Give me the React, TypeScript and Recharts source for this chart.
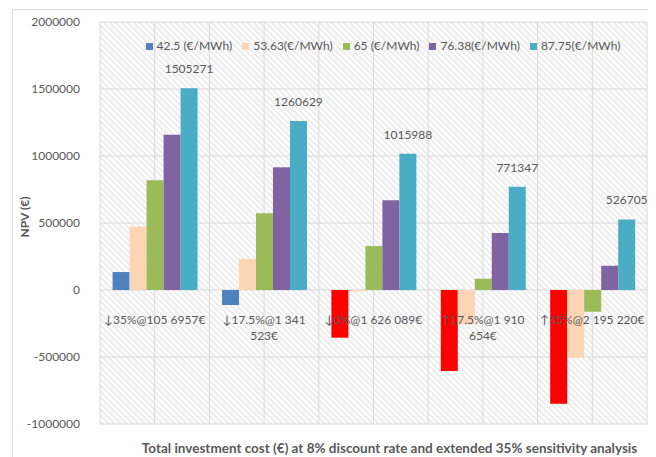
import { Bar, BarChart, CartesianGrid, Cell, Label, LabelList, Legend, XAxis, YAxis } from "recharts";

// categories: total investment cost scenarios
const categories = [
  "↓35%@105 6957€",
  "↓17.5%@1 341 523€",
  "↓0%@1 626 089€",
  "↑17.5%@1 910 654€",
  "↑35%@2 195 220€",
];

const seriesNames = ["42.5 (€/MWh)", "53.63(€/MWh)", "65 (€/MWh)", "76.38(€/MWh)", "87.75(€/MWh)"];

// NPV (€) per tariff
const npv425 = [134000, -112000, -356000, -604000, -848000];
const npv5363 = [474000, 232000, -10000, -256000, -505000];
const npv65 = [819000, 572000, 328000, 84000, -162000];
const npv7638 = [1159000, 916000, 669000, 425000, 181000];
const npv8775 = [1505271, 1260629, 1015988, 771347, 526705];

const yTicks = [-1000000, -500000, 0, 500000, 1000000, 1500000, 2000000];
const yDomain = [-1000000, 2000000];

const COLORS = ["#4F81BD", "#FCD5B5", "#9BBB59", "#8064A2", "#4BACC6"];
// first series is highlighted red where it turns deeply negative
const firstSeriesFills = ["#4F81BD", "#4F81BD", "#FF0000", "#FF0000", "#FF0000"];

const TEXT = "#595959";
const GRID = "#D9D9D9";

const data = categories.map((category, i) => ({
  category,
  s0: npv425[i],
  s1: npv5363[i],
  s2: npv65[i],
  s3: npv7638[i],
  s4: npv8775[i],
}));

const W = 638;
const H = 448;
const MARGIN = { top: 12, right: 4, bottom: 0, left: 0 };
const Y_AXIS_W = 87;
const X_AXIS_H = 34;
const plotTop = MARGIN.top;
const plotBottom = H - MARGIN.bottom - X_AXIS_H;
const zeroY = plotTop + (yDomain[1] / (yDomain[1] - yDomain[0])) * (plotBottom - plotTop);

function wrap(label: string, maxChars = 15) {
  const words = label.split(" ");
  const lines: string[] = [];
  let cur = "";
  for (const w of words) {
    const next = cur ? cur + " " + w : w;
    if (next.length > maxChars && cur) {
      lines.push(cur);
      cur = w;
    } else {
      cur = next;
    }
  }
  if (cur) lines.push(cur);
  return lines;
}

function CategoryTick(props: any) {
  const { x, payload } = props;
  const lines = wrap(payload.value);
  return (
    <text x={x} y={zeroY + 34} textAnchor="middle" fill={TEXT} fontSize={12}>
      {lines.map((l, i) => (
        <tspan key={i} x={x} dy={i === 0 ? 0 : 16}>
          {l}
        </tspan>
      ))}
    </text>
  );
}

export default function App() {
  return (
    <div
      style={{
        position: "relative",
        top: 1,
        marginLeft: 4,
        width: W,
        height: 460,
        border: `1px solid ${GRID}`,
        fontFamily: "Lato, 'Liberation Sans', sans-serif",
      }}
    >
      <BarChart width={W} height={H} data={data} margin={MARGIN} barCategoryGap="11.5%" barGap={0}>
        <defs>
          <pattern id="hatch" patternUnits="userSpaceOnUse" width={6} height={6}>
            <rect width={6} height={6} fill="#FFFFFF" />
            <path d="M-1,-1 L7,7 M-4,2 L2,8 M4,-2 L8,2" stroke="#EDEDED" strokeWidth={2} />
          </pattern>
        </defs>
        <CartesianGrid
          stroke={GRID}
          fill="url(#hatch)"
          fillOpacity={1}
          verticalCoordinatesGenerator={({ offset }: any) =>
            Array.from({ length: 11 }, (_, i) => offset.left + (i * offset.width) / 10)
          }
        />
        <YAxis
          width={Y_AXIS_W}
          domain={yDomain}
          ticks={yTicks}
          axisLine={false}
          tickLine={false}
          tickMargin={14}
          tick={{ fill: TEXT, fontSize: 12 }}
        >
          <Label
            content={(p: any) => {
              const vb = p.viewBox;
              const cx = vb.x + 11;
              const cy = vb.y + vb.height / 2 - 6;
              return (
                <text
                  x={cx}
                  y={cy}
                  transform={`rotate(-90 ${cx} ${cy})`}
                  textAnchor="middle"
                  dominantBaseline="central"
                  fontSize={12}
                  fontWeight="bold"
                  fill={TEXT}
                >
                  NPV (€)
                </text>
              );
            }}
          />
        </YAxis>
        <Legend
          layout="horizontal"
          verticalAlign="middle"
          align="center"
          iconType="square"
          iconSize={7}
          wrapperStyle={{ top: 28, left: 95, width: 560, fontSize: 12, lineHeight: "16px" }}
          formatter={(v: any) => <span style={{ color: TEXT }}>{v}</span>}
        />
        <Bar dataKey="s0" name={seriesNames[0]} fill={COLORS[0]} isAnimationActive={false}>
          {firstSeriesFills.map((f, i) => (
            <Cell key={i} fill={f} />
          ))}
        </Bar>
        <Bar dataKey="s1" name={seriesNames[1]} fill={COLORS[1]} isAnimationActive={false} />
        <Bar dataKey="s2" name={seriesNames[2]} fill={COLORS[2]} isAnimationActive={false} />
        <Bar dataKey="s3" name={seriesNames[3]} fill={COLORS[3]} isAnimationActive={false} />
        <Bar dataKey="s4" name={seriesNames[4]} fill={COLORS[4]} isAnimationActive={false}>
          <LabelList dataKey="s4" position="top" offset={15} fill={TEXT} fontSize={12} />
        </Bar>
        <XAxis
          dataKey="category"
          height={X_AXIS_H}
          axisLine={false}
          tickLine={false}
          interval={0}
          tick={(p: any) => <CategoryTick {...p} />}
        >
          <Label
            content={(p: any) => {
              const vb = p.viewBox;
              return (
                <text
                  x={vb.x + vb.width / 2 + 16}
                  y={vb.y + vb.height - 5}
                  textAnchor="middle"
                  fontSize={13.5}
                  fontWeight="bold"
                  fill={TEXT}
                >
                  Total investment cost (€) at 8% discount rate and extended 35% sensitivity analysis
                </text>
              );
            }}
          />
        </XAxis>
      </BarChart>
    </div>
  );
}
